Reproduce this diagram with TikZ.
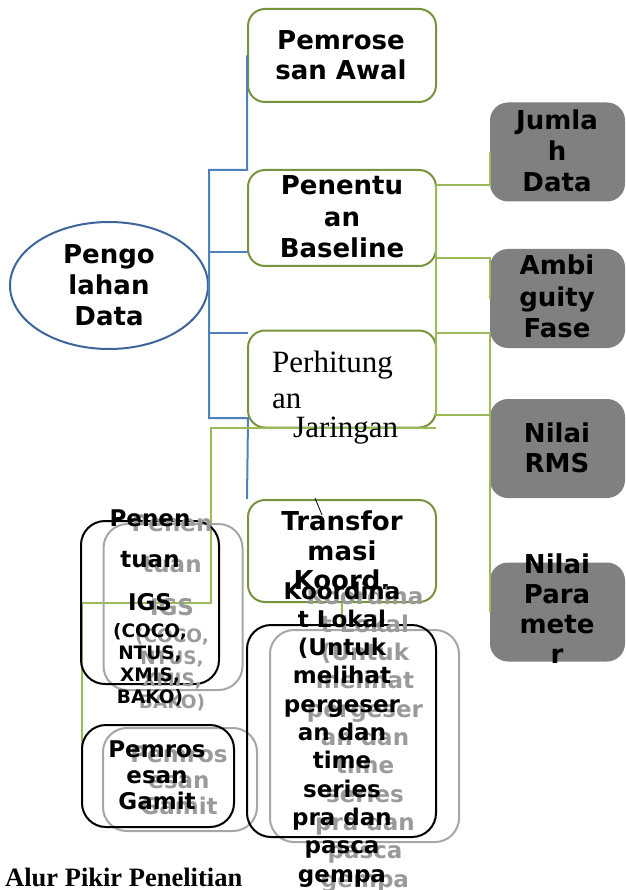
\documentclass[tikz,border=0pt]{standalone}
\usepackage{fontspec}
\setmainfont{Liberation Serif}
\setsansfont{DejaVu Sans}
\usetikzlibrary{shapes.geometric}

\definecolor{hijautua}{HTML}{77933C}
\definecolor{hijaumuda}{HTML}{9BBB59}
\definecolor{birugaris}{HTML}{4F81BD}
\definecolor{birutua}{HTML}{3F649B}
\definecolor{kotakabu}{HTML}{808080}
\definecolor{garisabu}{HTML}{A6A6A6}
\definecolor{teksabu}{HTML}{9A9A9A}

\tikzset{
  kotak/.style={draw=hijautua,line width=2pt,rounded corners=17pt,
    minimum width=188pt,inner sep=0pt},
  abu/.style={fill=kotakabu,rounded corners=18pt,minimum width=135pt,
    minimum height=99pt,inner sep=0pt},
  hitam/.style={draw=black,line width=2pt,rounded corners=24pt,inner sep=0pt},
  bayang/.style={draw=garisabu,line width=2pt,rounded corners=24pt,inner sep=0pt},
  hijau/.style={draw=hijaumuda,line width=2pt},
  biru/.style={draw=birugaris,line width=2pt},
  huruf/.style={font=\sffamily\bfseries\fontsize{26}{31}\selectfont,
    anchor=base,inner sep=0pt},
  sedang/.style={huruf,font=\sffamily\bfseries\fontsize{23}{28}\selectfont},
  kecil/.style={huruf,font=\sffamily\bfseries\fontsize{18.5}{22}\selectfont},
  serif/.style={font=\rmfamily\fontsize{31}{36}\selectfont,
    anchor=base west,inner sep=0pt}
}

\begin{document}
\begin{tikzpicture}[x=1pt,y=-1pt]
\useasboundingbox (0,0) rectangle (625,890);

% kotak utama
\node[draw=birutua,line width=2pt,ellipse,minimum width=198pt,
  minimum height=127pt,inner sep=0pt] (olah) at (109,285.5) {};
\node[kotak,minimum height=93pt] (awal) at (342,55.5) {};
\node[kotak,minimum height=96pt] (baseline) at (342,218) {};
\node[kotak,minimum height=97pt] (jaringan) at (342,379) {};
\node[kotak,minimum height=102pt] (transf) at (342,551) {};

% kotak abu-abu kanan
\node[abu] (jumlah) at (557.5,152) {};
\node[abu] (ambig) at (557.5,298.5) {};
\node[abu] (rms) at (557.5,448.5) {};
\node[abu] (param) at (557.5,612) {};

% garis biru
\draw[biru] (awal.west) |- (209,170) |- (248,418) -- (transf.north west);
\draw[biru] (209,252) -- ++(39,0);
\draw[biru] (209,333) -- ++(39,0);

% garis hijau
\draw[hijau] (436,185) -| (jumlah.west);
\draw[hijau] (436,185) -- (436,415) -- (490,415);
\draw[hijau] (436,258) -| (ambig.west);
\draw[hijau] (436,333) -| (param.west);
\draw[hijau] (436,428) -| (211,603) -| (82,775);

% kotak bawah
\node[bayang,minimum width=139pt,minimum height=166pt] (igs-b) at (173,607) {};
\node[hitam,minimum width=138pt,minimum height=163pt] (igs) at (150,602.5) {};
\node[bayang,minimum width=154pt,minimum height=103pt] (gamit-b) at (180,779.5) {};
\node[hitam,minimum width=152pt,minimum height=102pt] (gamit) at (158,776) {};
\node[bayang,minimum width=189pt,minimum height=212pt] (lokal-b) at (364.5,736) {};
\node[hitam,minimum width=189pt,minimum height=212pt] (lokal) at (341.5,731) {};
\draw[hijau] (transf.south) -- (lokal.north);
\draw[line width=0.8pt] (315,498) -- (322,515);

% teks
\foreach \t/\y [count=\i] in {Pengo/263,lahan/294,Data/325}
  \node[huruf] (olah-t\i) at (109,\y) {\t};
\foreach \t/\y [count=\i] in {Pemrose/50,san Awal/80}
  \node[huruf] (awal-t\i) at (341,\y) {\t};
\foreach \t/\y [count=\i] in {Penentu/195,an/227,Baseline/258}
  \node[huruf] (baseline-t\i) at (342,\y) {\t};
\foreach \t/\y [count=\i] in {Transfor/530,masi/560,Koord./589}
  \node[huruf] (transf-t\i) at (342,\y) {\t};
\node[serif] (jaringan-t1) at (272,372) {Perhitung};
\node[serif] (jaringan-t2) at (272,408) {an};
\node[serif] (jaringan-t3) at (293,437) {Jaringan};

\foreach \t/\y [count=\i] in {Jumla/130,h/161,Data/192}
  \node[huruf] (jumlah-t\i) at (557,\y) {\t};
\foreach \t/\y [count=\i] in {Ambi/275,guity/306,Fase/337}
  \node[huruf] (ambig-t\i) at (557,\y) {\t};
\foreach \t/\y [count=\i] in {Nilai/442,RMS/472}
  \node[huruf] (rms-t\i) at (557,\y) {\t};
\foreach \t/\y [count=\i] in {Nilai/573,Para/603,mete/633,r/663}
  \node[huruf] (param-t\i) at (557,\y) {\t};

% teks dengan bayangan
\foreach \t/\y [count=\i] in {Penen/526,tuan/567,IGS/610}{
  \node[sedang,text=teksabu] (igs-s\i) at (172,{\y+5}) {\t};
  \node[sedang] (igs-t\i) at (150,\y) {\t};
}
\foreach \t/\y [count=\i] in {{(COCO,}/637,{NTUS,}/659,{XMIS,}/681,{BAKO)}/703}{
  \node[kecil,text=teksabu] (igs-k\i) at (172,{\y+5}) {\t};
  \node[kecil] (igs-u\i) at (150,\y) {\t};
}
\foreach \t/\y [count=\i] in {Pemros/757,esan/783,Gamit/809}{
  \node[sedang,text=teksabu] (gamit-s\i) at (179,{\y+5}) {\t};
  \node[sedang] (gamit-t\i) at (157,\y) {\t};
}
\foreach \t/\y [count=\i] in {Koordina/599,t Lokal/627,{(Untuk}/655,melihat/683,
    pergeser/712,an dan/740,time/768,series/797,pra dan/825,pasca/853,gempa/882}{
  \node[sedang,text=teksabu] (lokal-s\i) at (365,{\y+5}) {\t};
  \node[sedang] (lokal-t\i) at (342,\y) {\t};
}

\node[font=\rmfamily\bfseries\fontsize{26.5}{30}\selectfont,anchor=base west,
  inner sep=0pt] (judul) at (5,886) {Alur Pikir Penelitian};
\end{tikzpicture}
\end{document}
